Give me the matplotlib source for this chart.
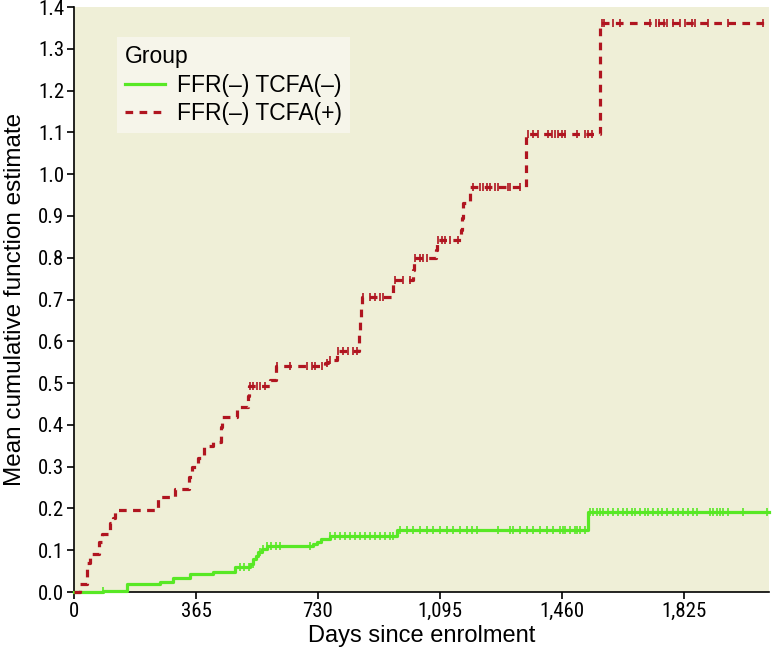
import numpy as np
import matplotlib
matplotlib.use("Agg")
import matplotlib.pyplot as plt
from matplotlib.ticker import FuncFormatter, MultipleLocator

# ---------------- data ----------------
# FFR(-) TCFA(+) : step times (days) and MCF values after each step
red_days = [0, 18, 40, 48, 75, 83, 108, 117, 123, 252, 302, 345, 352, 372, 389,
            417, 440, 443, 488, 521, 524, 587, 605, 752, 761, 788, 853, 856, 859,
            862, 955, 1015, 1018, 1084, 1087, 1158, 1162, 1165, 1186, 1353, 1575]
red_vals = [0.0, 0.02, 0.07, 0.09, 0.12, 0.14, 0.165, 0.177, 0.197, 0.227, 0.246,
            0.275, 0.30, 0.32, 0.35, 0.36, 0.395, 0.42, 0.443, 0.47, 0.493, 0.507,
            0.54, 0.548, 0.555, 0.576, 0.615, 0.648, 0.68, 0.705, 0.746, 0.77,
            0.80, 0.818, 0.842, 0.866, 0.895, 0.932, 0.969, 1.097, 1.361]
red_censor = [527, 536, 548, 557, 572, 608, 647, 698, 713, 722, 743, 757, 766,
              790, 805, 820, 835, 847, 865, 886, 901, 916, 925, 961, 985, 1006,
              1021, 1036, 1045, 1057, 1090, 1102, 1111, 1126, 1150, 1195, 1216,
              1225, 1237, 1246, 1260, 1269, 1299, 1305, 1335, 1359, 1374, 1389,
              1419, 1431, 1440, 1449, 1461, 1470, 1506, 1530, 1539, 1551, 1580,
              1586, 1614, 1635, 1725, 1740, 1749, 1764, 1775, 1793, 1814, 1829,
              1850, 1859, 1898, 1958, 2063]

# FFR(-) TCFA(-)
green_days = [0, 87, 158, 257, 297, 347, 417, 482, 527, 537, 545, 551, 562, 577,
              715, 727, 740, 766, 967, 1539]
green_vals = [0.0, 0.003, 0.018, 0.024, 0.033, 0.043, 0.048, 0.06, 0.068, 0.078,
              0.087, 0.096, 0.103, 0.11, 0.115, 0.12, 0.128, 0.134, 0.148, 0.191]
green_censor = [87, 497, 510, 523, 536, 557, 565, 577, 590, 605, 617, 707, 766,
                781, 796, 811, 826, 841, 856, 871, 886, 901, 916, 931, 946, 955,
                976, 997, 1015, 1036, 1057, 1075, 1096, 1117, 1135, 1156, 1177,
                1192, 1207, 1269, 1305, 1314, 1335, 1356, 1374, 1395, 1416, 1434,
                1455, 1464, 1470, 1485, 1500, 1506, 1515, 1530, 1545, 1554, 1566,
                1575, 1584, 1599, 1614, 1629, 1644, 1656, 1671, 1680, 1695, 1710,
                1719, 1734, 1746, 1760, 1775, 1793, 1808, 1823, 1838, 1853, 1865,
                1904, 1913, 1925, 1934, 1943, 1958, 2003, 2075]

x_end = 2080
x_ticks = [0, 365, 730, 1095, 1460, 1825]
labels = ["FFR(\u2013) TCFA(\u2013)", "FFR(\u2013) TCFA(+)"]

GREEN = "#58e825"
RED = "#b01520"
BG = "#efefd7"
TEXT_FONT = ["Liberation Sans", "DejaVu Sans"]
TICK_FONT = ["Roboto Condensed", "DejaVu Sans"]


def step_value(days, vals, t):
    idx = np.searchsorted(days, t, side="right") - 1
    return np.asarray(vals)[idx]


fig = plt.figure(figsize=(7.73, 6.5), dpi=100)
ax = fig.add_axes([0.0957, 0.0892, 0.8993, 0.9])
ax.set_facecolor(BG)

gd = green_days + [x_end]
gv = green_vals + [green_vals[-1]]
rd = red_days + [x_end]
rv = red_vals + [red_vals[-1]]

ax.step(gd, gv, where="post", color=GREEN, lw=2.3, label=labels[0], zorder=3,
        clip_on=False)
ax.step(rd, rv, where="post", color=RED, lw=2.3, dashes=(2.4, 2.0),
        label=labels[1], zorder=4, clip_on=False)

ax.plot(green_censor, step_value(green_days, green_vals, green_censor), ls="none",
        marker="|", ms=6, mew=1.2, color=GREEN, zorder=3)
ax.plot(red_censor, step_value(red_days, red_vals, red_censor), ls="none",
        marker="|", ms=6, mew=1.2, color=RED, zorder=4)

ax.set_xlim(0, x_end)
ax.set_ylim(0, 1.4)
ax.set_xticks(x_ticks)
ax.xaxis.set_major_formatter(FuncFormatter(lambda v, p: f"{int(v):,}"))
ax.yaxis.set_major_locator(MultipleLocator(0.1))
ax.yaxis.set_major_formatter(FuncFormatter(lambda v, p: f"{v:.1f}"))

for lab in ax.get_xticklabels() + ax.get_yticklabels():
    lab.set_fontfamily(TICK_FONT)
    lab.set_fontsize(15)

ax.tick_params(direction="out", length=5, width=1.2, pad=2)
for s in ["top", "right"]:
    ax.spines[s].set_visible(False)
for s in ["left", "bottom"]:
    ax.spines[s].set_linewidth(1.2)
    ax.spines[s].set_zorder(2)

ax.set_xlabel("Days since enrolment", fontsize=17, family=TEXT_FONT, labelpad=3)
ax.set_ylabel("Mean cumulative function estimate", fontsize=17.5,
              family=TEXT_FONT, labelpad=9)

leg = ax.legend(title="Group", loc="upper left", bbox_to_anchor=(0.062, 0.949),
                borderaxespad=0, frameon=True, fancybox=False, framealpha=1,
                edgecolor="none", facecolor="#f6f5ea",
                prop={"family": TEXT_FONT, "size": 16.5},
                title_fontproperties={"family": TEXT_FONT, "size": 16.5},
                handlelength=1.75, handletextpad=0.5, borderpad=0.35,
                labelspacing=0.25)
leg._legend_box.align = "left"

fig.savefig("out.png", dpi=100)
